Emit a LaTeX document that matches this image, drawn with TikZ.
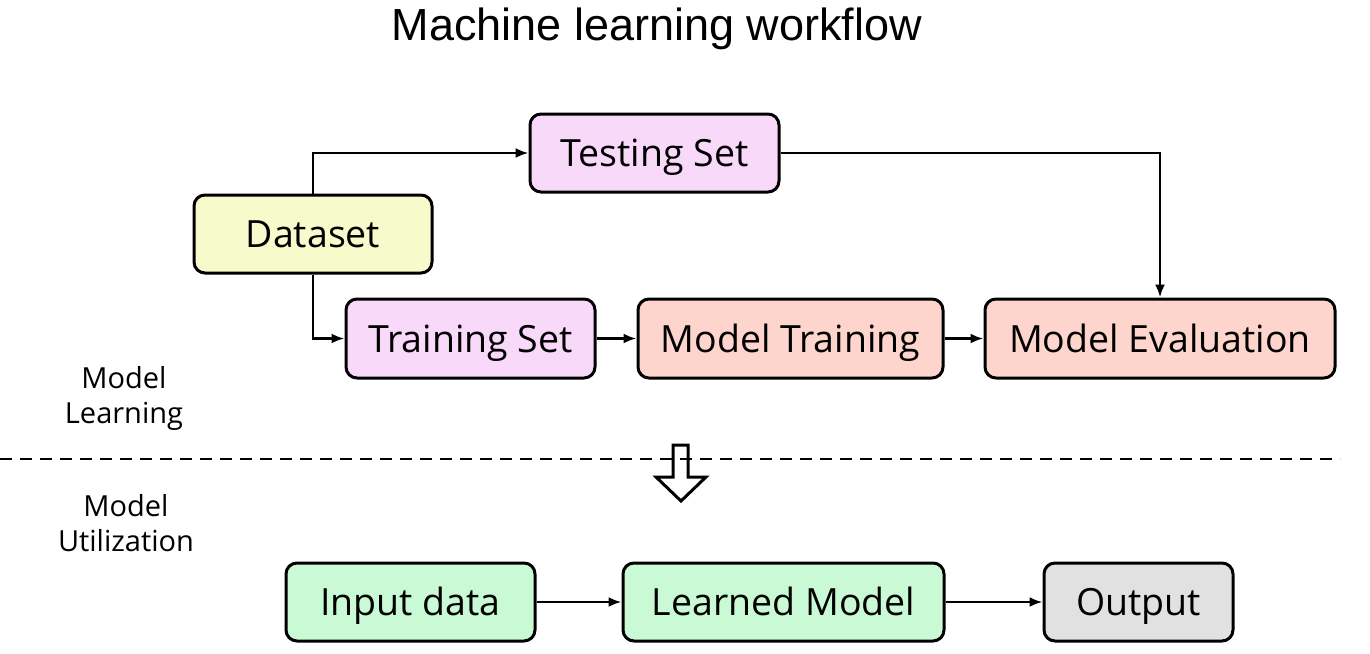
\documentclass[tikz,border=0pt]{standalone}
\usepackage{fontspec}
\setmainfont{Open Sans}
\newfontfamily\titlefont{Liberation Sans}
\usetikzlibrary{arrows.meta}
\definecolor{cpink}{HTML}{F9D9FA}
\definecolor{cyellow}{HTML}{F7FACB}
\definecolor{csalmon}{HTML}{FDD5CC}
\definecolor{cgreen}{HTML}{C9F9D5}
\definecolor{cgrey}{HTML}{E1E1E1}
\tikzset{
  box/.style={draw=black, line width=3pt, rounded corners=11pt, inner sep=0pt,
    text height=27pt, text depth=0pt,
    font=\fontsize{37.5}{44}\selectfont},
  conn/.style={line width=2.5pt, -{Latex[length=13pt,width=10pt]}},
  side/.style={font=\fontsize{29}{35}\selectfont, align=center},
}
\begin{document}
\begin{tikzpicture}[x=1pt,y=-1pt]
\useasboundingbox (0,0) rectangle (1370,653);
\node[font=\titlefont\fontsize{45}{50}\selectfont] (title) at (657,29) {Machine learning workflow};
% boxes
\node[box, fill=cpink, minimum width=249pt, minimum height=78pt] (test) at (654.5,153) {Testing Set};
\node[box, fill=cyellow, minimum width=238pt, minimum height=78pt] (data) at (313,234) {Dataset};
\node[box, fill=cpink, minimum width=249pt, minimum height=79pt] (train) at (470.5,338.5) {Training Set};
\node[box, fill=csalmon, minimum width=305pt, minimum height=79pt] (mtrain) at (790.5,338.5) {Model Training};
\node[box, fill=csalmon, minimum width=350pt, minimum height=79pt] (meval) at (1160,338.5) {Model Evaluation};
\node[box, fill=cgreen, minimum width=249pt, minimum height=78pt] (input) at (410.5,602) {Input data};
\node[box, fill=cgreen, minimum width=321pt, minimum height=78pt] (learned) at (783.5,602) {Learned Model};
\node[box, fill=cgrey, minimum width=189pt, minimum height=78pt] (output) at (1138.5,602) {Output};
% side labels
\node[side] (learnlab) at (124,398) {Model\\Learning};
\node[side] (utillab) at (126,523) {Model\\Utilization};
% connectors
\draw[conn] (data.north) |- (test.west);
\draw[conn] (data.south) |- (train.west);
\draw[conn] (train.east) -- (mtrain.west);
\draw[conn] (mtrain.east) -- (meval.west);
\draw[conn] (test.east) -| (meval.north);
\draw[conn] (input.east) -- (learned.west);
\draw[conn] (learned.east) -- (output.west);
% divider
\coordinate (dl) at (0,459);
\coordinate (dr) at (1340,459);
\draw[line width=2.5pt, dash pattern=on 12pt off 8pt] (dl) -- (dr);
% hollow arrow
\draw[line width=3pt, line join=miter] (673,445) -- (688,445) -- (688,477) -- (706,477) -- (681,501) -- (656,477) -- (673,477) -- cycle;
\end{tikzpicture}
\end{document}
